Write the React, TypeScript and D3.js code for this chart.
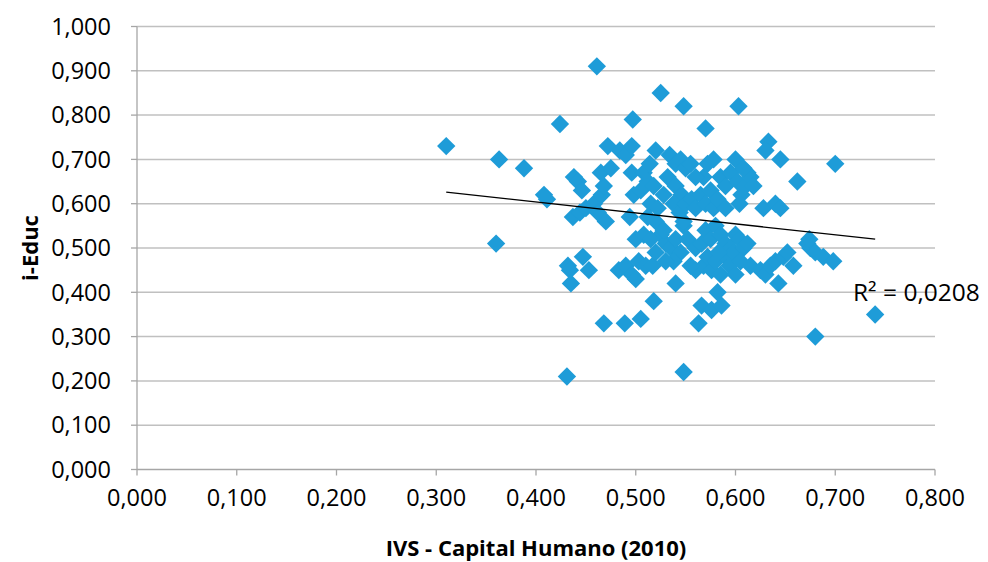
import React from "react";
import * as d3 from "d3";

// IVS - Capital Humano (2010)
const xValues: number[] = [
  0.310, 0.461, 0.525, 0.548, 0.603, 0.497, 0.424, 0.570, 0.633, 0.630,
  0.645, 0.700, 0.662, 0.363, 0.388, 0.360, 0.408, 0.411, 0.438, 0.442,
  0.446, 0.437, 0.444, 0.450, 0.458, 0.462, 0.466, 0.468, 0.465, 0.472,
  0.470, 0.475, 0.484, 0.490, 0.496, 0.432, 0.434, 0.435, 0.447, 0.453,
  0.431, 0.468, 0.489, 0.505, 0.518, 0.483, 0.490, 0.496, 0.500, 0.503,
  0.510, 0.517, 0.500, 0.508, 0.494, 0.498, 0.505, 0.496, 0.508, 0.512,
  0.514, 0.520, 0.518, 0.515, 0.512, 0.520, 0.525, 0.515, 0.530, 0.535,
  0.528, 0.522, 0.528, 0.532, 0.534, 0.540, 0.545, 0.550, 0.555, 0.540,
  0.546, 0.538, 0.544, 0.550, 0.556, 0.560, 0.548, 0.540, 0.552, 0.545,
  0.538, 0.540, 0.548, 0.563, 0.566, 0.576, 0.582, 0.586, 0.560, 0.568,
  0.572, 0.576, 0.580, 0.585, 0.590, 0.594, 0.560, 0.566, 0.570, 0.575,
  0.580, 0.585, 0.590, 0.595, 0.600, 0.598, 0.604, 0.608, 0.612, 0.605,
  0.600, 0.615, 0.565, 0.570, 0.575, 0.578, 0.582, 0.568, 0.572, 0.578,
  0.585, 0.590, 0.595, 0.600, 0.602, 0.606, 0.604, 0.610, 0.612, 0.615,
  0.618, 0.608, 0.625, 0.630, 0.635, 0.640, 0.643, 0.648, 0.652, 0.658,
  0.628, 0.640, 0.645, 0.672, 0.675, 0.674, 0.680, 0.688, 0.698, 0.740,
  0.680, 0.548, 0.555, 0.530, 0.520, 0.560, 0.590, 0.583,
];

// i-Educ
const yValues: number[] = [
  0.730, 0.910, 0.850, 0.820, 0.820, 0.790, 0.780, 0.770, 0.740, 0.720,
  0.700, 0.690, 0.650, 0.700, 0.680, 0.510, 0.620, 0.610, 0.660, 0.650,
  0.630, 0.570, 0.580, 0.590, 0.600, 0.580, 0.620, 0.640, 0.670, 0.730,
  0.560, 0.680, 0.720, 0.710, 0.730, 0.460, 0.450, 0.420, 0.480, 0.450,
  0.210, 0.330, 0.330, 0.340, 0.380, 0.450, 0.460, 0.440, 0.430, 0.470,
  0.460, 0.460, 0.520, 0.530, 0.570, 0.620, 0.630, 0.670, 0.670, 0.650,
  0.690, 0.720, 0.640, 0.600, 0.570, 0.560, 0.530, 0.520, 0.510, 0.500,
  0.540, 0.590, 0.620, 0.660, 0.710, 0.690, 0.700, 0.680, 0.690, 0.640,
  0.620, 0.600, 0.580, 0.600, 0.610, 0.590, 0.550, 0.520, 0.520, 0.490,
  0.470, 0.420, 0.220, 0.330, 0.370, 0.360, 0.400, 0.370, 0.450, 0.460,
  0.480, 0.450, 0.470, 0.440, 0.480, 0.460, 0.500, 0.510, 0.540, 0.520,
  0.550, 0.530, 0.510, 0.500, 0.530, 0.490, 0.520, 0.500, 0.510, 0.470,
  0.440, 0.460, 0.620, 0.600, 0.630, 0.590, 0.610, 0.660, 0.690, 0.700,
  0.660, 0.640, 0.670, 0.700, 0.650, 0.620, 0.600, 0.640, 0.670, 0.660,
  0.640, 0.680, 0.450, 0.440, 0.460, 0.470, 0.420, 0.480, 0.490, 0.460,
  0.590, 0.600, 0.590, 0.510, 0.500, 0.520, 0.490, 0.480, 0.470, 0.350,
  0.300, 0.560, 0.460, 0.470, 0.490, 0.660, 0.590, 0.490,
];

const xTicks: number[] = [0, 0.1, 0.2, 0.3, 0.4, 0.5, 0.6, 0.7, 0.8];
const yTicks: number[] = [0, 0.1, 0.2, 0.3, 0.4, 0.5, 0.6, 0.7, 0.8, 0.9, 1.0];

// Linear trendline (Excel fit)
const trendSlope = -0.247;
const trendIntercept = 0.7026;
const r2Label = "R² = 0,0208";

const xTitle = "IVS - Capital Humano (2010)";
const yTitle = "i-Educ";

const W = 988;
const H = 562;
const M = { left: 137, right: 53, top: 26.5, bottom: 92.5 };

const fmt = (v: number) => d3.format(".3f")(v).replace(".", ",");

export default function App() {
  const x = d3.scaleLinear().domain([0, 0.8]).range([M.left, W - M.right]);
  const y = d3.scaleLinear().domain([0, 1]).range([H - M.bottom, M.top]);
  const diamond = d3.symbol().type(d3.symbolDiamond2).size(215)();
  const xExt = d3.extent(xValues) as [number, number];
  const line = d3
    .line<number>()
    .x((d) => x(d))
    .y((d) => y(trendIntercept + trendSlope * d));
  const font = "'Open Sans', sans-serif";
  const gridColor = "#C0C0C0";
  const axisColor = "#A6A6A6";

  return (
    <svg
      width={W}
      height={H}
      style={{ position: "absolute", left: 0, top: 0, background: "#fff" }}
      fontFamily={font}
    >
      {yTicks.map((t) => (
        <g key={"y" + t}>
          {t > 0 && (
            <line x1={M.left} x2={W - M.right} y1={y(t)} y2={y(t)} stroke={gridColor} strokeWidth={1.5} />
          )}
          <line x1={M.left - 6} x2={M.left} y1={y(t)} y2={y(t)} stroke={axisColor} strokeWidth={1.3} />
          <text x={M.left - 26} y={y(t)} dy="0.35em" textAnchor="end" fontSize={23.5} fill="#000">
            {fmt(t)}
          </text>
        </g>
      ))}
      {xTicks.map((t) => (
        <g key={"x" + t}>
          <line x1={x(t)} x2={x(t)} y1={y(0)} y2={y(0) + 6} stroke={axisColor} strokeWidth={1.3} />
          <text x={x(t)} y={y(0) + 28} dy="0.35em" textAnchor="middle" fontSize={23.5} fill="#000">
            {fmt(t)}
          </text>
        </g>
      ))}
      <line x1={M.left} x2={M.left} y1={y(1)} y2={y(0)} stroke={axisColor} strokeWidth={1.3} />
      <line x1={M.left} x2={W - M.right} y1={y(0)} y2={y(0)} stroke={axisColor} strokeWidth={1.3} />

      {xValues.map((xv, i) => (
        <path
          key={"p" + i}
          d={diamond}
          transform={`translate(${x(xv)},${y(yValues[i])})`}
          fill="#1E9CD8"
        />
      ))}

      <path d={line(xExt) || ""} fill="none" stroke="#000" strokeWidth={1.3} />

      <text x={853} y={y(0.4)} dy="0.35em" fontSize={24.5} fill="#000">
        {r2Label}
      </text>

      <text
        x={(M.left + W - M.right) / 2}
        y={548}
        dy="0.35em"
        textAnchor="middle"
        fontSize={22}
        fontWeight="bold"
        fill="#000"
      >
        {xTitle}
      </text>
      <text
        transform={`translate(30,${(y(0) + y(1)) / 2}) rotate(-90)`}
        dy="0.35em"
        textAnchor="middle"
        fontSize={22}
        fontWeight="bold"
        fill="#000"
      >
        {yTitle}
      </text>
    </svg>
  );
}
